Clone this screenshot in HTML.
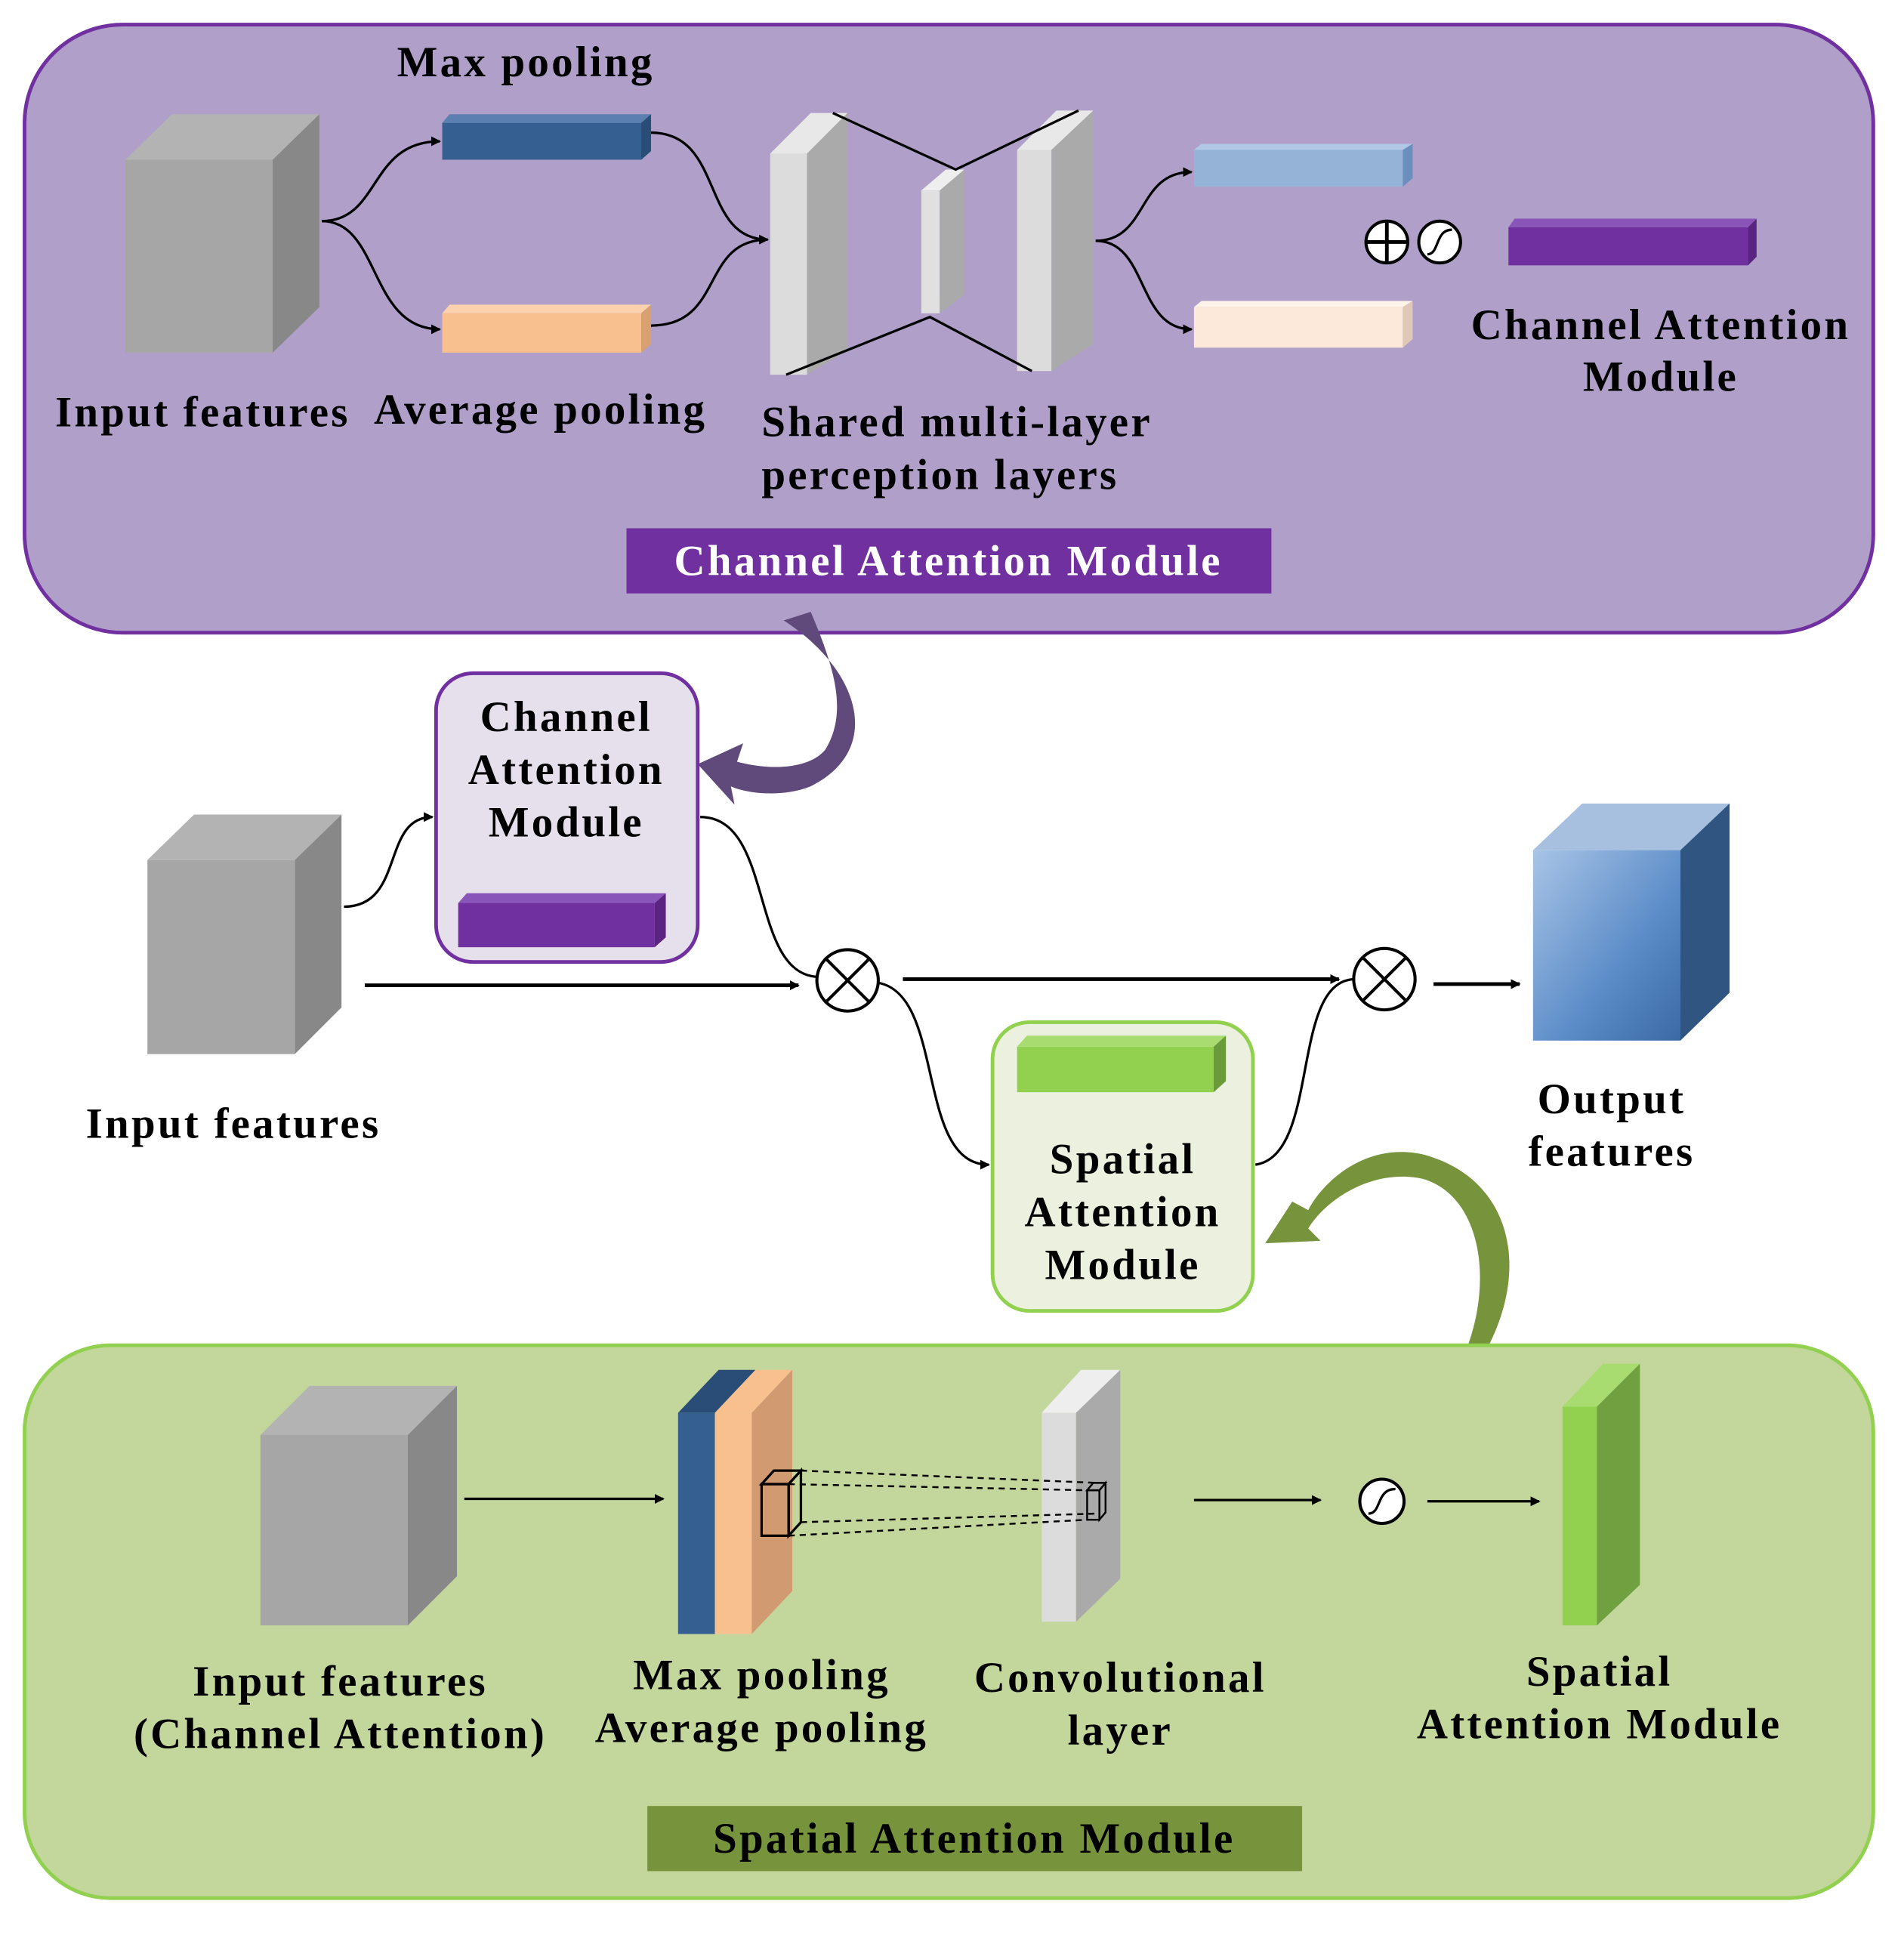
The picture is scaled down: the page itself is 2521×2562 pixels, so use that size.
<!DOCTYPE html>
<html><head><meta charset="utf-8"><style>html,body{margin:0;padding:0;background:#fff}svg{display:block}text{font-family:"Liberation Serif",serif;font-weight:bold;fill:#000;font-size:35px;letter-spacing:2px}</style></head><body>
<svg width="2521" height="2562" viewBox="0 0 1550 1575" preserveAspectRatio="none" xmlns="http://www.w3.org/2000/svg">
<defs>
<marker id="a" markerWidth="8" markerHeight="8" refX="7" refY="4" orient="auto" markerUnits="userSpaceOnUse"><path d="M0,0 L8,4 L0,8 z" fill="#000"/></marker>
<linearGradient id="g" x1="0" y1="0" x2="1" y2="1"><stop offset="0" stop-color="#a8c4e6"/><stop offset="0.6" stop-color="#5b8cc8"/><stop offset="1" stop-color="#3b6aa5"/></linearGradient>
</defs>
<rect x="20" y="20" width="1505" height="495" rx="80" fill="#b09fc8" stroke="#7030a0" stroke-width="3"/>
<polygon points="102,130 140,93 260,93 222,130" fill="#b3b3b3"/>
<rect x="102" y="130" width="120" height="157" fill="#a6a6a6"/>
<polygon points="222,130 260,93 260,250 222,287" fill="#888"/>
<polygon points="360,100 366,93 530,93 522,100" fill="#5a7fb0"/><rect x="360" y="100" width="162" height="30" fill="#355f91"/><polygon points="522,100 530,93 530,123 522,130" fill="#2a4d78"/>
<polygon points="360,255 366,248 530,248 522,255" fill="#fbd2ad"/><rect x="360" y="255" width="162" height="32" fill="#f9c08f"/><polygon points="522,255 530,248 530,280 522,287" fill="#d9a070"/>
<path d="M262,180 C310,180 300,115 358,115" fill="none" stroke="#000" stroke-width="2" marker-end="url(#a)"/>
<path d="M262,180 C310,180 300,268 358,268" fill="none" stroke="#000" stroke-width="2" marker-end="url(#a)"/>
<path d="M530,108 C590,108 570,195 625,195" fill="none" stroke="#000" stroke-width="2" marker-end="url(#a)"/>
<path d="M530,265 C590,265 570,195 625,195" fill="none" stroke="#000" stroke-width="2"/>
<rect x="627" y="125" width="30" height="180" fill="#dcdcdc"/><polygon points="627,125 660,92 690,92 657,125" fill="#e8e8e8"/><polygon points="657,125 690,92 690,285 657,305" fill="#aaa"/>
<rect x="750" y="155" width="15" height="100" fill="#e0e0e0"/><polygon points="765,155 785,138 785,240 765,255" fill="#aaa"/><polygon points="750,155 770,138 785,138 765,155" fill="#eee"/>
<rect x="828" y="122" width="28" height="180" fill="#dcdcdc"/><polygon points="828,122 860,90 890,90 856,122" fill="#e8e8e8"/><polygon points="856,122 890,90 890,280 856,302" fill="#aaa"/>
<polyline points="678,92 778,138 878,90" fill="none" stroke="#000" stroke-width="2"/>
<polyline points="640,305 757,258 840,302" fill="none" stroke="#000" stroke-width="2"/>
<path d="M892,196 C935,196 925,140 970,140" fill="none" stroke="#000" stroke-width="2" marker-end="url(#a)"/>
<path d="M892,196 C935,196 925,268 970,268" fill="none" stroke="#000" stroke-width="2" marker-end="url(#a)"/>
<polygon points="972,122 978,117 1150,117 1142,122" fill="#b0c8e6"/><rect x="972" y="122" width="170" height="30" fill="#95b3d7"/><polygon points="1142,122 1150,117 1150,145 1142,152" fill="#6a8fbf"/>
<polygon points="972,250 978,245 1150,245 1142,250" fill="#fff3ea"/><rect x="972" y="250" width="170" height="33" fill="#fde9d9"/><polygon points="1142,250 1150,245 1150,276 1142,283" fill="#e0c8b8"/>
<circle cx="1129" cy="197" r="17" fill="#fff" stroke="#000" stroke-width="2.5"/><line x1="1112" y1="197" x2="1146" y2="197" stroke="#000" stroke-width="3"/><line x1="1129" y1="180" x2="1129" y2="214" stroke="#000" stroke-width="3"/>
<circle cx="1172" cy="197" r="17" fill="#fff" stroke="#000" stroke-width="2.5"/><path d="M1162,207 C1172,207 1168,187 1182,187" fill="none" stroke="#000" stroke-width="2"/>
<polygon points="1228,185 1233,178 1430,178 1423,185" fill="#8a55b8"/><rect x="1228" y="185" width="195" height="31" fill="#7030a0"/><polygon points="1423,185 1430,178 1430,209 1423,216" fill="#5a2480"/>
<text x="428" y="62" text-anchor="middle">Max pooling</text>
<text x="165" y="347" text-anchor="middle">Input features</text>
<text x="440" y="345" text-anchor="middle">Average pooling</text>
<text x="620" y="355">Shared multi-layer</text>
<text x="620" y="398">perception layers</text>
<text x="1352" y="276" text-anchor="middle">Channel Attention</text>
<text x="1352" y="318" text-anchor="middle">Module</text>
<rect x="510" y="430" width="525" height="53" fill="#7030a0"/>
<text x="772" y="468" text-anchor="middle" style="fill:#fff">Channel Attention Module</text>
<path d="M638,505 C700,545 720,610 660,640 C635,650 605,645 595,640 L598,655 L568,622 L605,605 L600,620 C630,628 660,625 672,610 C690,580 680,545 660,498 z" fill="#604a7b"/>
<rect x="355" y="548" width="213" height="235" rx="30" fill="#e6e0ec" stroke="#7030a0" stroke-width="3"/>
<text x="461" y="595" text-anchor="middle">Channel</text>
<text x="461" y="638" text-anchor="middle">Attention</text>
<text x="461" y="681" text-anchor="middle">Module</text>
<polygon points="373,735 380,727 542,727 533,735" fill="#8a55b8"/><rect x="373" y="735" width="160" height="36" fill="#7030a0"/><polygon points="533,735 542,727 542,763 533,771" fill="#5a2480"/>
<polygon points="120,700 158,663 278,663 240,700" fill="#b3b3b3"/><rect x="120" y="700" width="120" height="158" fill="#a6a6a6"/><polygon points="240,700 278,663 278,820 240,858" fill="#888"/>
<text x="190" y="926" text-anchor="middle">Input features</text>
<path d="M280,738 C330,738 310,665 352,665" fill="none" stroke="#000" stroke-width="2" marker-end="url(#a)"/>
<path d="M570,665 C630,665 610,790 664,795" fill="none" stroke="#000" stroke-width="2"/>
<line x1="297" y1="802" x2="650" y2="802" stroke="#000" stroke-width="3" marker-end="url(#a)"/>
<circle cx="690" cy="798" r="25" fill="#fff" stroke="#000" stroke-width="2.5"/><line x1="672" y1="780" x2="708" y2="816" stroke="#000" stroke-width="2.5"/><line x1="708" y1="780" x2="672" y2="816" stroke="#000" stroke-width="2.5"/>
<line x1="735" y1="797" x2="1090" y2="797" stroke="#000" stroke-width="3" marker-end="url(#a)"/>
<circle cx="1127" cy="797" r="25" fill="#fff" stroke="#000" stroke-width="2.5"/><line x1="1109" y1="779" x2="1145" y2="815" stroke="#000" stroke-width="2.5"/><line x1="1145" y1="779" x2="1109" y2="815" stroke="#000" stroke-width="2.5"/>
<line x1="1167" y1="801" x2="1237" y2="801" stroke="#000" stroke-width="3" marker-end="url(#a)"/>
<path d="M715,800 C770,810 745,948 805,948" fill="none" stroke="#000" stroke-width="2" marker-end="url(#a)"/>
<path d="M1022,948 C1075,940 1050,800 1102,797" fill="none" stroke="#000" stroke-width="2"/>
<polygon points="1248,692 1288,654 1408,654 1368,692" fill="#a8c0e0"/><rect x="1248" y="692" width="120" height="155" fill="url(#g)"/><polygon points="1368,692 1408,654 1408,808 1368,847" fill="#2f5580"/>
<text x="1312" y="906" text-anchor="middle">Output</text>
<text x="1312" y="949" text-anchor="middle">features</text>
<rect x="808" y="832" width="212" height="235" rx="30" fill="#ebf1de" stroke="#92d050" stroke-width="3"/>
<polygon points="828,852 836,843 998,843 988,852" fill="#a8dc70"/><rect x="828" y="852" width="160" height="37" fill="#92d050"/><polygon points="988,852 998,843 998,880 988,889" fill="#6a9a3a"/>
<text x="914" y="955" text-anchor="middle">Spatial</text>
<text x="914" y="998" text-anchor="middle">Attention</text>
<text x="914" y="1041" text-anchor="middle">Module</text>
<path d="M1212,1095 C1245,1030 1230,960 1160,940 C1110,928 1075,965 1065,985 L1052,978 L1030,1012 L1075,1010 L1065,1000 C1080,975 1120,950 1160,960 C1205,975 1215,1040 1195,1095 z" fill="#77933c"/>
<rect x="20" y="1095" width="1505" height="450" rx="70" fill="#c3d69b" stroke="#92d050" stroke-width="3"/>
<polygon points="212,1168 252,1128 372,1128 332,1168" fill="#b3b3b3"/><rect x="212" y="1168" width="120" height="155" fill="#a6a6a6"/><polygon points="332,1168 372,1128 372,1283 332,1323" fill="#888"/>
<line x1="378" y1="1220" x2="540" y2="1220" stroke="#000" stroke-width="2" marker-end="url(#a)"/>
<rect x="552" y="1150" width="30" height="180" fill="#355f91"/><polygon points="552,1150 585,1115 615,1115 582,1150" fill="#2a4d78"/>
<rect x="582" y="1150" width="30" height="180" fill="#f9c08f"/><polygon points="582,1150 615,1115 645,1115 612,1150" fill="#f9c08f"/><polygon points="612,1150 645,1115 645,1295 612,1330" fill="#d19a70"/>
<rect x="620" y="1208" width="22" height="42" fill="none" stroke="#000" stroke-width="2"/><polygon points="620,1208 630,1197 652,1197 642,1208" fill="none" stroke="#000" stroke-width="2"/><polygon points="642,1208 652,1197 652,1239 642,1250" fill="none" stroke="#000" stroke-width="2"/>
<rect x="848" y="1150" width="28" height="170" fill="#dcdcdc"/><polygon points="848,1150 880,1115 912,1115 876,1150" fill="#eee"/><polygon points="876,1150 912,1115 912,1285 876,1320" fill="#aaa"/>
<g stroke="#000" stroke-width="1.5" stroke-dasharray="5,4"><line x1="652" y1="1197" x2="893" y2="1207"/><line x1="642" y1="1208" x2="885" y2="1213"/><line x1="652" y1="1239" x2="893" y2="1232"/><line x1="642" y1="1250" x2="885" y2="1237"/></g>
<rect x="885" y="1213" width="10" height="24" fill="none" stroke="#000" stroke-width="1.5"/><polygon points="885,1213 890,1207 900,1207 895,1213" fill="none" stroke="#000" stroke-width="1.5"/><polygon points="895,1213 900,1207 900,1231 895,1237" fill="none" stroke="#000" stroke-width="1.5"/>
<line x1="972" y1="1221" x2="1075" y2="1221" stroke="#000" stroke-width="2" marker-end="url(#a)"/>
<circle cx="1125" cy="1222" r="18" fill="#fff" stroke="#000" stroke-width="2.5"/><path d="M1114,1232 C1125,1232 1120,1212 1136,1212" fill="none" stroke="#000" stroke-width="2"/>
<line x1="1162" y1="1222" x2="1253" y2="1222" stroke="#000" stroke-width="2" marker-end="url(#a)"/>
<rect x="1272" y="1145" width="28" height="178" fill="#92d050"/><polygon points="1272,1145 1305,1110 1335,1110 1300,1145" fill="#a8dc70"/><polygon points="1300,1145 1335,1110 1335,1290 1300,1323" fill="#70a040"/>
<text x="277" y="1380" text-anchor="middle">Input features</text>
<text x="277" y="1423" text-anchor="middle">(Channel Attention)</text>
<text x="620" y="1375" text-anchor="middle">Max pooling</text>
<text x="620" y="1418" text-anchor="middle">Average pooling</text>
<text x="912" y="1377" text-anchor="middle">Convolutional</text>
<text x="912" y="1420" text-anchor="middle">layer</text>
<text x="1302" y="1372" text-anchor="middle">Spatial</text>
<text x="1302" y="1415" text-anchor="middle">Attention Module</text>
<rect x="527" y="1470" width="533" height="53" fill="#77933c"/>
<text x="793" y="1508" text-anchor="middle">Spatial Attention Module</text>
</svg>
</body></html>
